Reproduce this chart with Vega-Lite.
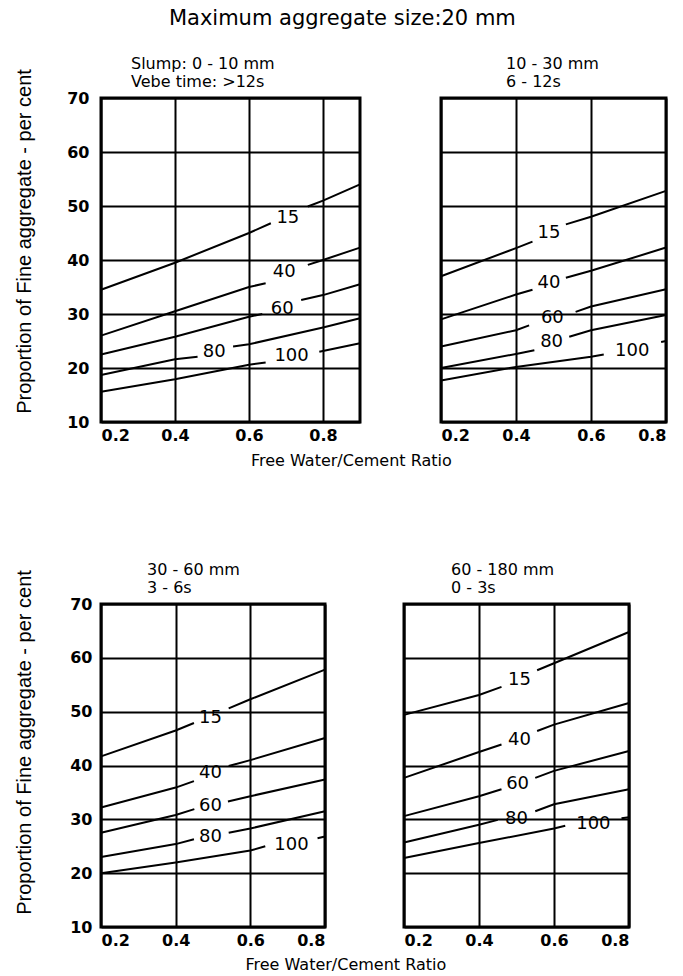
{
  "$schema": "https://vega.github.io/schema/vega-lite/v6.json",
  "padding": {"left": 13, "top": 8, "right": 10, "bottom": 4},
  "background": "white",
  "title": {"text": "Maximum aggregate size:20 mm", "fontSize": 21, "font": "DejaVu Sans", "fontWeight": "normal", "anchor": "middle", "offset": 25, "color": "black"},
  "config": {
    "view": {"stroke": "black", "strokeWidth": 3},
    "axis": {"grid": true, "gridColor": "black", "gridWidth": 2, "gridOpacity": 1, "ticks": false, "tickSize": 0, "domain": false,
      "labelFont": "DejaVu Sans", "labelFontWeight": "bold", "labelFontSize": 16, "labelColor": "black",
      "titleFont": "Liberation Sans", "titleFontWeight": "normal", "titleFontSize": 20, "titleColor": "black"},
    "axisX": {"labelPadding": 5},
    "axisY": {"labelPadding": 12},
    "title": {"font": "DejaVu Sans", "fontSize": 16, "fontWeight": "normal", "color": "black", "lineHeight": 18},
    "line": {"color": "black", "strokeWidth": 2},
    "text": {"font": "DejaVu Sans", "fontSize": 18, "color": "black"}
  },
  "datasets": {
    "curves": [
      {"panel":1,"part":"15a","x":0.2,"y":34.5},{"panel":1,"part":"15a","x":0.4,"y":39.5},{"panel":1,"part":"15a","x":0.6,"y":45},{"panel":1,"part":"15a","x":0.659,"y":46.8},
      {"panel":1,"part":"15b","x":0.759,"y":49.9},{"panel":1,"part":"15b","x":0.8,"y":51},{"panel":1,"part":"15b","x":0.9,"y":54},
      {"panel":1,"part":"40a","x":0.2,"y":26},{"panel":1,"part":"40a","x":0.4,"y":30.5},{"panel":1,"part":"40a","x":0.6,"y":35},{"panel":1,"part":"40a","x":0.645,"y":35.7},
      {"panel":1,"part":"40b","x":0.759,"y":39.1},{"panel":1,"part":"40b","x":0.8,"y":40},{"panel":1,"part":"40b","x":0.9,"y":42.3},
      {"panel":1,"part":"60a","x":0.2,"y":22.5},{"panel":1,"part":"60a","x":0.4,"y":25.8},{"panel":1,"part":"60a","x":0.6,"y":29.5},{"panel":1,"part":"60a","x":0.636,"y":30},
      {"panel":1,"part":"60b","x":0.741,"y":32.6},{"panel":1,"part":"60b","x":0.8,"y":33.5},{"panel":1,"part":"60b","x":0.9,"y":35.5},
      {"panel":1,"part":"80a","x":0.2,"y":18.7},{"panel":1,"part":"80a","x":0.4,"y":21.6},{"panel":1,"part":"80a","x":0.461,"y":22.1},
      {"panel":1,"part":"80b","x":0.557,"y":24},{"panel":1,"part":"80b","x":0.6,"y":24.4},{"panel":1,"part":"80b","x":0.8,"y":27.5},{"panel":1,"part":"80b","x":0.9,"y":29.2},
      {"panel":1,"part":"100a","x":0.2,"y":15.6},{"panel":1,"part":"100a","x":0.4,"y":17.9},{"panel":1,"part":"100a","x":0.6,"y":20.6},{"panel":1,"part":"100a","x":0.645,"y":21},
      {"panel":1,"part":"100b","x":0.79,"y":23},{"panel":1,"part":"100b","x":0.9,"y":24.6},

      {"panel":2,"part":"15a","x":0.2,"y":37},{"panel":2,"part":"15a","x":0.4,"y":42.2},{"panel":2,"part":"15a","x":0.444,"y":43.4},
      {"panel":2,"part":"15b","x":0.533,"y":46.6},{"panel":2,"part":"15b","x":0.6,"y":48},{"panel":2,"part":"15b","x":0.8,"y":52.8},
      {"panel":2,"part":"40a","x":0.2,"y":29},{"panel":2,"part":"40a","x":0.4,"y":33.6},{"panel":2,"part":"40a","x":0.444,"y":34.5},
      {"panel":2,"part":"40b","x":0.533,"y":36.7},{"panel":2,"part":"40b","x":0.6,"y":38},{"panel":2,"part":"40b","x":0.8,"y":42.3},
      {"panel":2,"part":"60a","x":0.2,"y":24},{"panel":2,"part":"60a","x":0.4,"y":27},{"panel":2,"part":"60a","x":0.435,"y":27.9},
      {"panel":2,"part":"60b","x":0.559,"y":30.4},{"panel":2,"part":"60b","x":0.6,"y":31.4},{"panel":2,"part":"60b","x":0.8,"y":34.6},
      {"panel":2,"part":"80a","x":0.2,"y":20},{"panel":2,"part":"80a","x":0.4,"y":22.6},{"panel":2,"part":"80a","x":0.449,"y":23.3},
      {"panel":2,"part":"80b","x":0.542,"y":25.8},{"panel":2,"part":"80b","x":0.6,"y":27},{"panel":2,"part":"80b","x":0.8,"y":29.8},
      {"panel":2,"part":"100a","x":0.2,"y":17.7},{"panel":2,"part":"100a","x":0.4,"y":20.2},{"panel":2,"part":"100a","x":0.6,"y":22.1},{"panel":2,"part":"100a","x":0.634,"y":22.5},
      {"panel":2,"part":"100b","x":0.787,"y":24.8},{"panel":2,"part":"100b","x":0.8,"y":25},

      {"panel":3,"part":"15a","x":0.2,"y":41.7},{"panel":3,"part":"15a","x":0.4,"y":46.5},{"panel":3,"part":"15a","x":0.449,"y":47.9},
      {"panel":3,"part":"15b","x":0.542,"y":50.6},{"panel":3,"part":"15b","x":0.6,"y":52.3},{"panel":3,"part":"15b","x":0.8,"y":57.8},
      {"panel":3,"part":"40a","x":0.2,"y":32.2},{"panel":3,"part":"40a","x":0.4,"y":35.9},{"panel":3,"part":"40a","x":0.449,"y":37.1},
      {"panel":3,"part":"40b","x":0.542,"y":39.9},{"panel":3,"part":"40b","x":0.6,"y":41},{"panel":3,"part":"40b","x":0.8,"y":45.1},
      {"panel":3,"part":"60a","x":0.2,"y":27.5},{"panel":3,"part":"60a","x":0.4,"y":30.8},{"panel":3,"part":"60a","x":0.45,"y":31.9},
      {"panel":3,"part":"60b","x":0.54,"y":33.3},{"panel":3,"part":"60b","x":0.6,"y":34.3},{"panel":3,"part":"60b","x":0.8,"y":37.4},
      {"panel":3,"part":"80a","x":0.2,"y":23},{"panel":3,"part":"80a","x":0.4,"y":25.4},{"panel":3,"part":"80a","x":0.449,"y":26.3},
      {"panel":3,"part":"80b","x":0.542,"y":27.5},{"panel":3,"part":"80b","x":0.6,"y":28.3},{"panel":3,"part":"80b","x":0.8,"y":31.5},
      {"panel":3,"part":"100a","x":0.2,"y":20},{"panel":3,"part":"100a","x":0.4,"y":22},{"panel":3,"part":"100a","x":0.6,"y":24.2},{"panel":3,"part":"100a","x":0.64,"y":25},
      {"panel":3,"part":"100b","x":0.78,"y":26.5},{"panel":3,"part":"100b","x":0.8,"y":26.8},

      {"panel":4,"part":"15a","x":0.2,"y":49.4},{"panel":4,"part":"15a","x":0.4,"y":53.1},{"panel":4,"part":"15a","x":0.46,"y":54.6},
      {"panel":4,"part":"15b","x":0.555,"y":57.7},{"panel":4,"part":"15b","x":0.6,"y":59},{"panel":4,"part":"15b","x":0.8,"y":64.8},
      {"panel":4,"part":"40a","x":0.2,"y":37.7},{"panel":4,"part":"40a","x":0.4,"y":42.5},{"panel":4,"part":"40a","x":0.46,"y":43.9},
      {"panel":4,"part":"40b","x":0.555,"y":46.4},{"panel":4,"part":"40b","x":0.6,"y":47.6},{"panel":4,"part":"40b","x":0.8,"y":51.6},
      {"panel":4,"part":"60a","x":0.2,"y":30.6},{"panel":4,"part":"60a","x":0.4,"y":34.3},{"panel":4,"part":"60a","x":0.46,"y":35.6},
      {"panel":4,"part":"60b","x":0.55,"y":37.7},{"panel":4,"part":"60b","x":0.6,"y":39},{"panel":4,"part":"60b","x":0.8,"y":42.7},
      {"panel":4,"part":"80a","x":0.2,"y":25.7},{"panel":4,"part":"80a","x":0.4,"y":29},{"panel":4,"part":"80a","x":0.45,"y":29.9},
      {"panel":4,"part":"80b","x":0.55,"y":31.5},{"panel":4,"part":"80b","x":0.6,"y":32.8},{"panel":4,"part":"80b","x":0.8,"y":35.6},
      {"panel":4,"part":"100a","x":0.2,"y":22.8},{"panel":4,"part":"100a","x":0.4,"y":25.6},{"panel":4,"part":"100a","x":0.6,"y":28.3},{"panel":4,"part":"100a","x":0.63,"y":28.8},
      {"panel":4,"part":"100b","x":0.78,"y":30.2},{"panel":4,"part":"100b","x":0.8,"y":30.4}
    ],
    "labels": [
      {"panel":1,"label":"15","x":0.705,"y":47.7},{"panel":1,"label":"40","x":0.695,"y":37.7},{"panel":1,"label":"60","x":0.69,"y":31.0},{"panel":1,"label":"80","x":0.506,"y":23.0},{"panel":1,"label":"100","x":0.715,"y":22.3},
      {"panel":2,"label":"15","x":0.488,"y":45},{"panel":2,"label":"40","x":0.488,"y":35.7},{"panel":2,"label":"60","x":0.497,"y":29.2},{"panel":2,"label":"80","x":0.495,"y":24.8},{"panel":2,"label":"100","x":0.71,"y":23.2},
      {"panel":3,"label":"15","x":0.493,"y":48.9},{"panel":3,"label":"40","x":0.493,"y":38.6},{"panel":3,"label":"60","x":0.493,"y":32.5},{"panel":3,"label":"80","x":0.493,"y":26.8},{"panel":3,"label":"100","x":0.71,"y":25.2},
      {"panel":4,"label":"15","x":0.508,"y":55.9},{"panel":4,"label":"40","x":0.508,"y":44.8},{"panel":4,"label":"60","x":0.503,"y":36.5},{"panel":4,"label":"80","x":0.5,"y":30},{"panel":4,"label":"100","x":0.705,"y":29.1}
    ]
  },
  "spacing": 91,
  "vconcat": [
    {
      "title": {"text": "Free Water/Cement Ratio", "orient": "bottom", "anchor": "middle", "fontSize": 16, "offset": 8, "dx": 9},
      "spacing": 69,
      "hconcat": [
        {
          "width": 259, "height": 324,
          "title": {"text": ["Slump: 0 - 10 mm", "Vebe time: >12s"], "anchor": "start", "frame": "group", "dx": 30, "offset": -21},
          "layer": [
            {"data": {"name": "curves"}, "transform": [{"filter": "datum.panel == 1"}],
             "mark": {"type": "line"},
             "encoding": {
               "x": {"field": "x", "type": "quantitative", "scale": {"domain": [0.2, 0.9], "nice": false, "zero": false}, "axis": {"values": [0.2, 0.4, 0.6, 0.8], "format": ".1f", "title": null}},
               "y": {"field": "y", "type": "quantitative", "scale": {"domain": [10, 70], "nice": false, "zero": false}, "axis": {"values": [10, 20, 30, 40, 50, 60, 70], "title": "Proportion of Fine aggregate - per cent", "labelPadding": 12, "titlePadding": 32, "titleY": 143}},
               "detail": {"field": "part"},
               "order": {"field": "x"}
             }},
            {"data": {"name": "labels"}, "transform": [{"filter": "datum.panel == 1"}],
             "mark": {"type": "text"},
             "encoding": {"x": {"field": "x", "type": "quantitative"}, "y": {"field": "y", "type": "quantitative"}, "text": {"field": "label"}}}
          ]
        },
        {
          "width": 225, "height": 324,
          "title": {"text": ["10 - 30 mm", "6 - 12s"], "anchor": "start", "frame": "group", "dx": 65, "offset": 8},
          "layer": [
            {"data": {"name": "curves"}, "transform": [{"filter": "datum.panel == 2"}],
             "mark": {"type": "line"},
             "encoding": {
               "x": {"field": "x", "type": "quantitative", "scale": {"domain": [0.2, 0.8], "nice": false, "zero": false}, "axis": {"values": [0.2, 0.4, 0.6, 0.8], "format": ".1f", "title": null}},
               "y": {"field": "y", "type": "quantitative", "scale": {"domain": [10, 70], "nice": false, "zero": false}, "axis": {"values": [10, 20, 30, 40, 50, 60, 70], "labels": false, "title": null}},
               "detail": {"field": "part"},
               "order": {"field": "x"}
             }},
            {"data": {"name": "labels"}, "transform": [{"filter": "datum.panel == 2"}],
             "mark": {"type": "text"},
             "encoding": {"x": {"field": "x", "type": "quantitative"}, "y": {"field": "y", "type": "quantitative"}, "text": {"field": "label"}}}
          ]
        }
      ]
    },
    {
      "title": {"text": "Free Water/Cement Ratio", "orient": "bottom", "anchor": "middle", "fontSize": 16, "offset": 7, "dx": 22},
      "spacing": 67,
      "hconcat": [
        {
          "width": 224, "height": 323,
          "title": {"text": ["30 - 60 mm", "3 - 6s"], "anchor": "start", "frame": "group", "dx": 46, "offset": -26},
          "layer": [
            {"data": {"name": "curves"}, "transform": [{"filter": "datum.panel == 3"}],
             "mark": {"type": "line"},
             "encoding": {
               "x": {"field": "x", "type": "quantitative", "scale": {"domain": [0.2, 0.8], "nice": false, "zero": false}, "axis": {"values": [0.2, 0.4, 0.6, 0.8], "format": ".1f", "title": null}},
               "y": {"field": "y", "type": "quantitative", "scale": {"domain": [10, 70], "nice": false, "zero": false}, "axis": {"values": [10, 20, 30, 40, 50, 60, 70], "title": "Proportion of Fine aggregate - per cent", "labelPadding": 9, "titlePadding": 35, "titleY": 138}},
               "detail": {"field": "part"},
               "order": {"field": "x"}
             }},
            {"data": {"name": "labels"}, "transform": [{"filter": "datum.panel == 3"}],
             "mark": {"type": "text"},
             "encoding": {"x": {"field": "x", "type": "quantitative"}, "y": {"field": "y", "type": "quantitative"}, "text": {"field": "label"}}}
          ]
        },
        {
          "width": 225, "height": 323,
          "title": {"text": ["60 - 180 mm", "0 - 3s"], "anchor": "start", "frame": "group", "dx": 47, "offset": 8},
          "layer": [
            {"data": {"name": "curves"}, "transform": [{"filter": "datum.panel == 4"}],
             "mark": {"type": "line"},
             "encoding": {
               "x": {"field": "x", "type": "quantitative", "scale": {"domain": [0.2, 0.8], "nice": false, "zero": false}, "axis": {"values": [0.2, 0.4, 0.6, 0.8], "format": ".1f", "title": null}},
               "y": {"field": "y", "type": "quantitative", "scale": {"domain": [10, 70], "nice": false, "zero": false}, "axis": {"values": [10, 20, 30, 40, 50, 60, 70], "labels": false, "title": null}},
               "detail": {"field": "part"},
               "order": {"field": "x"}
             }},
            {"data": {"name": "labels"}, "transform": [{"filter": "datum.panel == 4"}],
             "mark": {"type": "text"},
             "encoding": {"x": {"field": "x", "type": "quantitative"}, "y": {"field": "y", "type": "quantitative"}, "text": {"field": "label"}}}
          ]
        }
      ]
    }
  ]
}
